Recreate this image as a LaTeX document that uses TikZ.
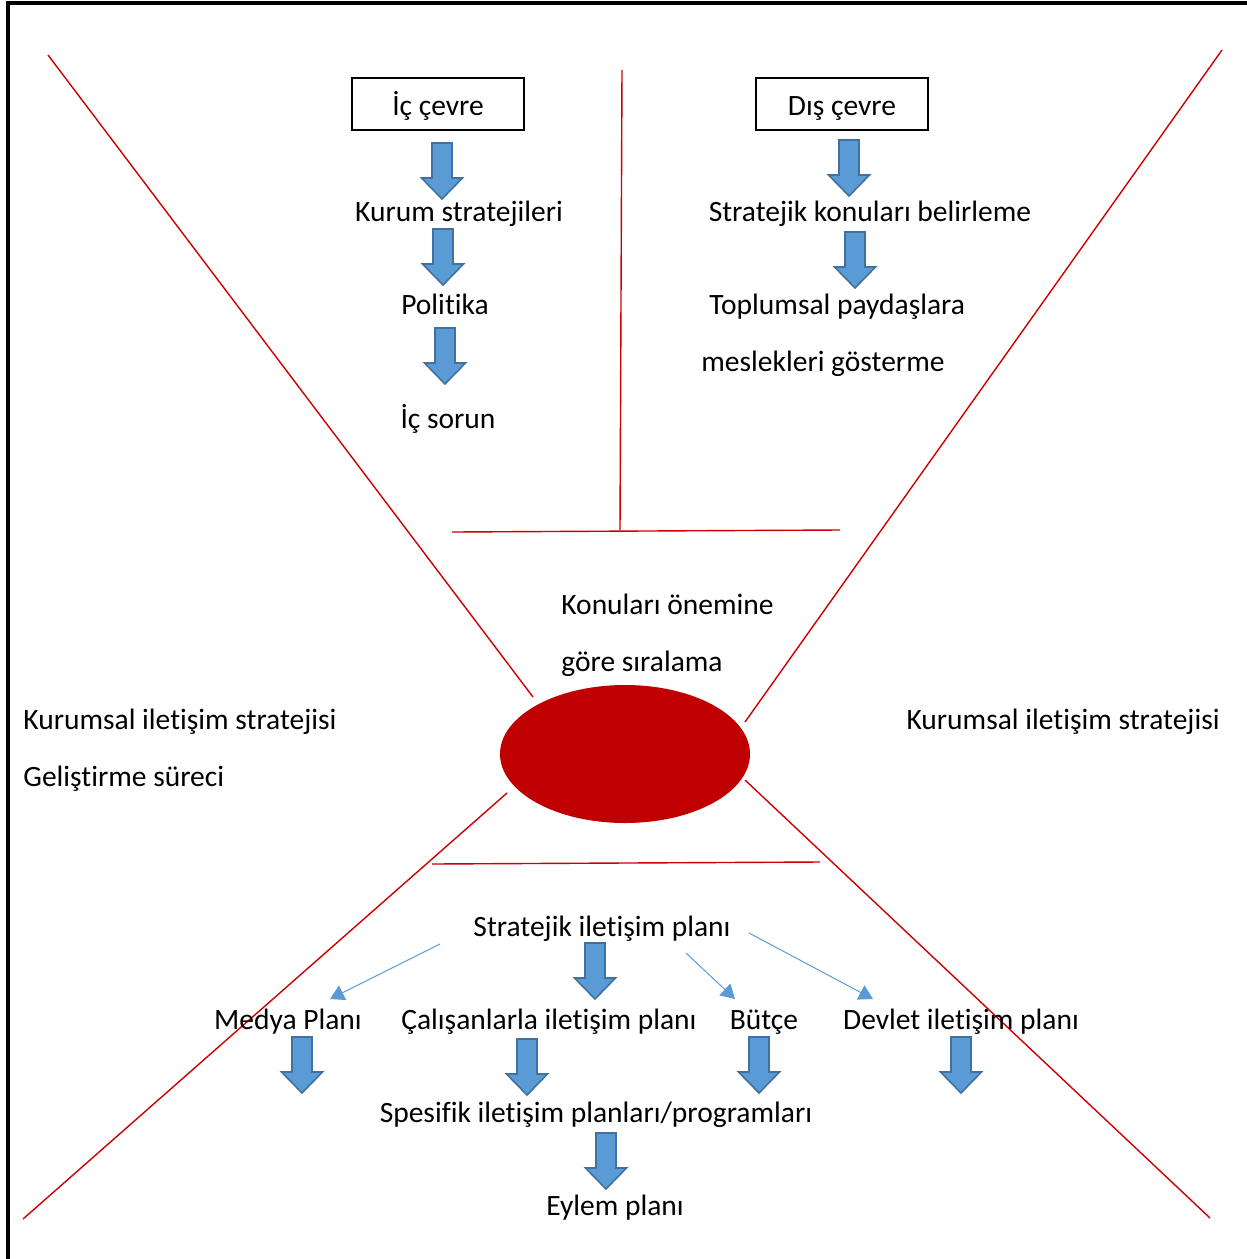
\documentclass[tikz,border=0pt]{standalone}
\usepackage{fontspec}
\setmainfont{Carlito}[Ligatures=NoCommon]
\usetikzlibrary{arrows.meta}

\definecolor{linered}{RGB}{204,0,0}
\definecolor{ovalred}{RGB}{192,0,0}
\definecolor{arrowblue}{RGB}{91,155,213}
\definecolor{arrowedge}{RGB}{65,113,156}

\tikzset{
  redline/.style={draw=linered, line width=0.7pt},
  txt/.style={font=\fontsize{14.75}{17}\selectfont, inner sep=0pt},
  framebox/.style={draw, line width=0.6pt, minimum width=86pt, minimum height=26pt, inner sep=0pt,
    text height=11.5pt, text depth=0pt},
  thinarrow/.style={draw=arrowblue, line width=0.5pt, -{Triangle[length=7pt, width=8pt]}},
  blockdown/.pic={\filldraw[fill=arrowblue, draw=arrowedge, line width=0.8pt]
    (-10,0) -- (10,0) -- (10,35) -- (20.5,35) -- (0,56) -- (-20.5,35) -- (-10,35) -- cycle;}
}

\begin{document}
\begin{tikzpicture}[x=0.5pt, y=-0.5pt]
\useasboundingbox (0,0) rectangle (1247,1259);

% Frame
\draw[line width=1.6pt] (8,1259) -- (8,3) -- (1247,3);

% Red guide lines
\draw[redline] (48,55) -- (533,697);
\draw[redline] (1222,50) -- (745,722);
\draw[redline] (507,793) -- (23,1219);
\draw[redline] (745,780) -- (1210,1218);
\draw[redline] (622,70) -- (620,530);
\draw[redline] (452,532) -- (840,530);
\draw[redline] (432,864) -- (820,862);

% Central oval
\fill[ovalred] (625,754) ellipse [x radius=125, y radius=69];

% Internal environment
\node[framebox, txt] (icbox) at (438,104) {İç çevre};
\node[txt, anchor=base] (kurum) at (459,221) {Kurum stratejileri};
\node[txt, anchor=base] (politika) at (445,314) {Politika};
\node[txt, anchor=base] (icsorun) at (448,428) {İç sorun};
\pic at (442,143) {blockdown};
\pic at (443,229) {blockdown};
\pic at (445,328) {blockdown};

% External environment
\node[framebox, txt] (disbox) at (842,104) {Dış çevre};
\node[txt, anchor=base] (konular) at (870,221) {Stratejik konuları belirleme};
\node[txt, anchor=base west] (toplumsal) at (709,314) {Toplumsal paydaşlara};
\node[txt, anchor=base west] (meslek) at (701,371) {meslekleri gösterme};
\pic at (849,140) {blockdown};
\pic at (855,232) {blockdown};

% Ranking
\node[txt, anchor=base west] (sirala1) at (561,614) {Konuları önemine};
\node[txt, anchor=base west] (sirala2) at (561,671) {göre sıralama};

% Side labels
\node[txt, anchor=base west] (solust) at (23,729) {Kurumsal iletişim stratejisi};
\node[txt, anchor=base west] (solalt) at (23,786) {Geliştirme süreci};
\node[txt, anchor=base east] (sag) at (1220,729) {Kurumsal iletişim stratejisi};

% Strategic communication plan
\node[txt, anchor=base] (plan) at (602,936) {Stratejik iletişim planı};
\node[txt, anchor=base] (medya) at (288,1029) {Medya Planı};
\node[txt, anchor=base] (calisan) at (549,1029) {Çalışanlarla iletişim planı};
\node[txt, anchor=base] (butce) at (764,1029) {Bütçe};
\node[txt, anchor=base] (devlet) at (961,1029) {Devlet iletişim planı};
\node[txt, anchor=base] (spesifik) at (596,1122) {Spesifik iletişim planları/programları};
\node[txt, anchor=base] (eylem) at (615,1215) {Eylem planı};

\pic at (595,943) {blockdown};
\pic at (302,1037) {blockdown};
\pic at (527,1039) {blockdown};
\pic at (759,1037) {blockdown};
\pic at (961,1037) {blockdown};
\pic at (606,1133) {blockdown};

% Thin arrows
\coordinate (m1) at (440,944);
\coordinate (m2) at (330,999);
\coordinate (b1) at (686,953);
\coordinate (b2) at (735,999);
\coordinate (d1) at (749,933);
\coordinate (d2) at (873,999);
\draw[thinarrow] (m1) -- (m2);
\draw[thinarrow] (b1) -- (b2);
\draw[thinarrow] (d1) -- (d2);

\end{tikzpicture}
\end{document}
